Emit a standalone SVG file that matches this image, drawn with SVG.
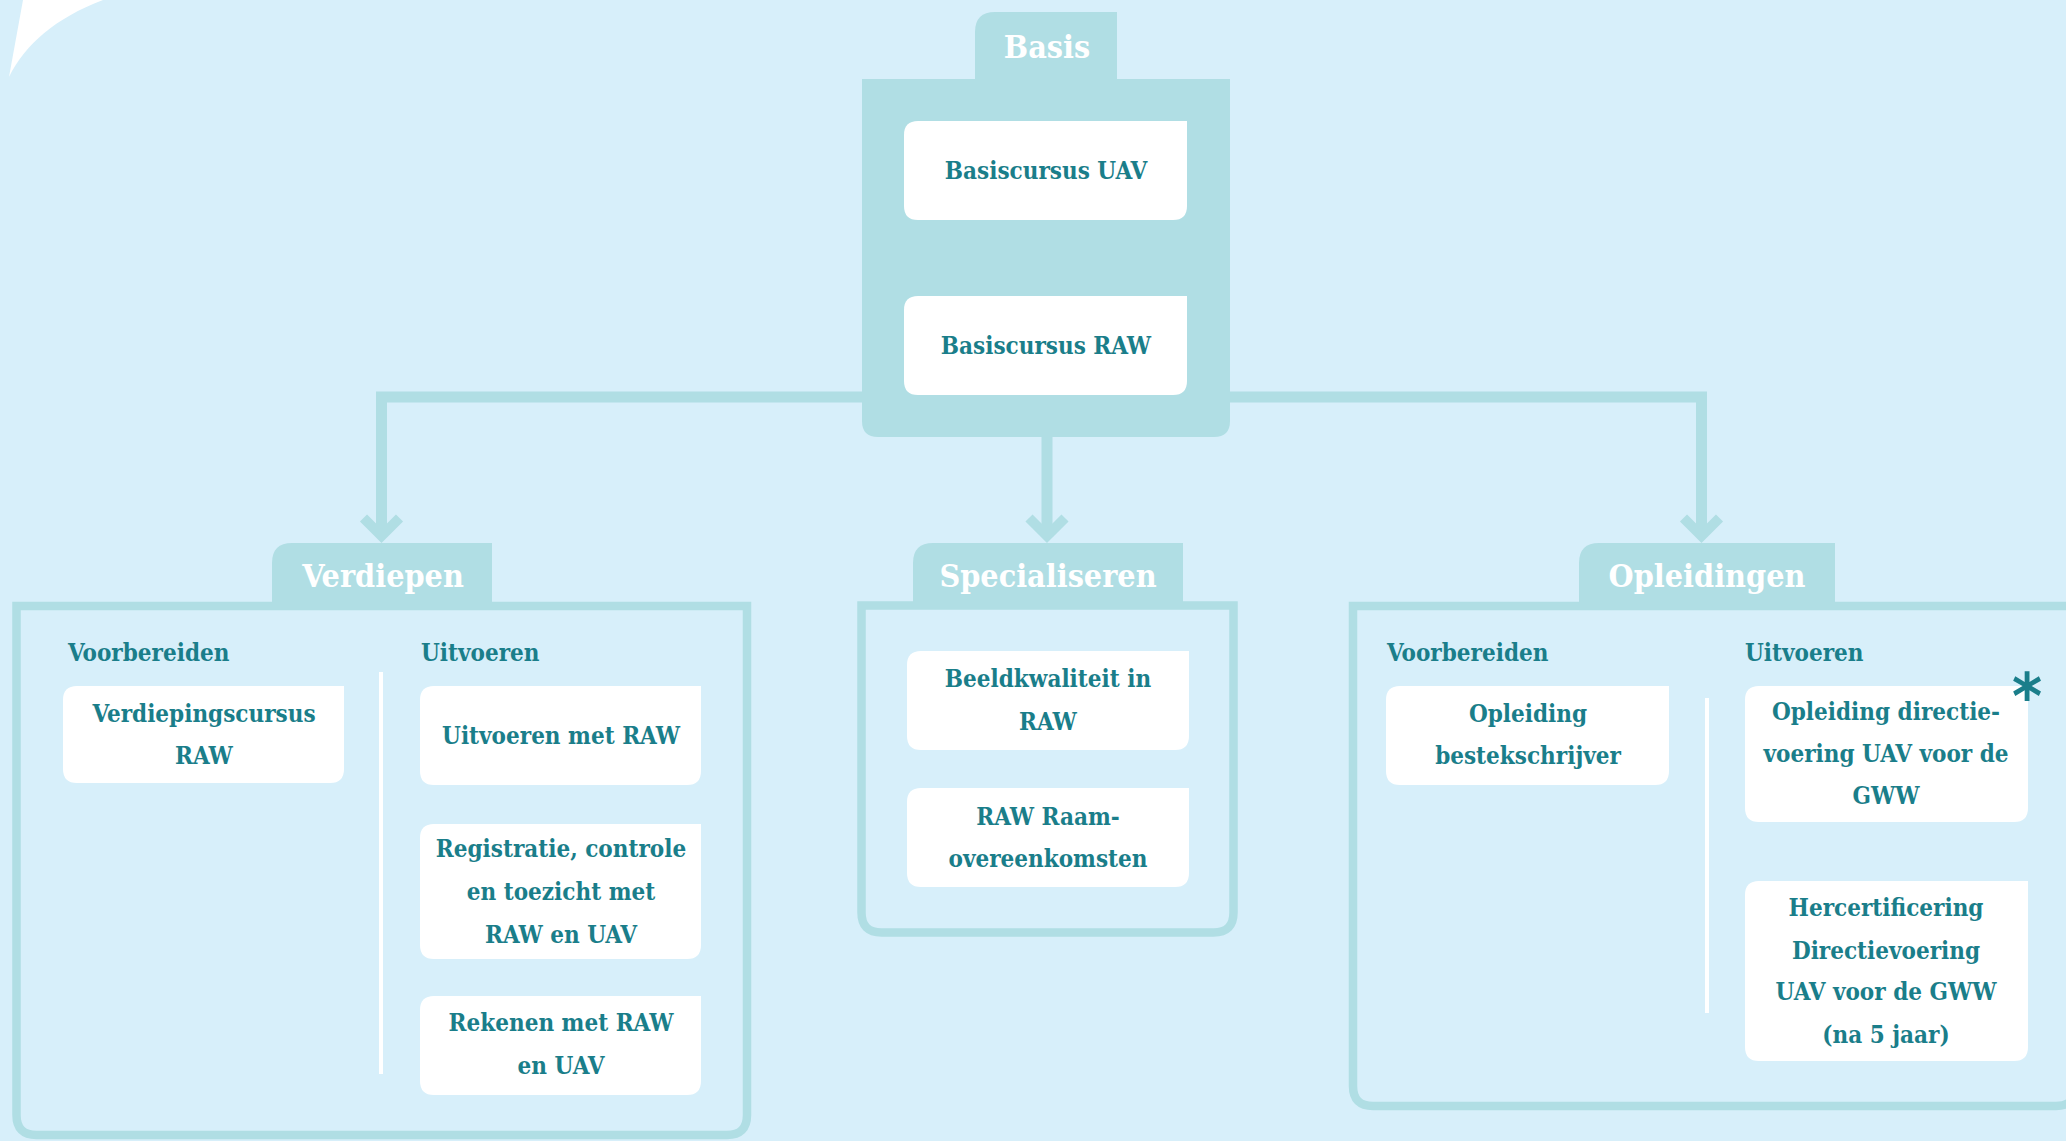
<svg xmlns="http://www.w3.org/2000/svg" width="2066" height="1141" viewBox="0 0 2066 1141">
<defs>
<style>
.bg{fill:#d7effa}
.tab{fill:#b0dee4}
.frame{fill:none;stroke:#b0dee4;stroke-width:8.5}
.card{fill:#ffffff}
.div{stroke:#ffffff;stroke-width:4}
.conn{fill:none;stroke:#b0dee4;stroke-width:11;stroke-linejoin:miter}
text{font-family:"DejaVu Serif Condensed","DejaVu Serif",serif;font-stretch:condensed;font-weight:bold}
.h{fill:#ffffff;font-size:32px;text-anchor:middle}
.sub{fill:#1a7e8a;font-size:24px}
.t{fill:#1a7e8a;font-size:24px;text-anchor:middle}
.star{fill:#1a7e8a;font-size:64px;text-anchor:middle;font-family:"DejaVu Sans",sans-serif}
</style>
<marker id="chev" markerUnits="userSpaceOnUse" orient="auto" viewBox="-30 -30 40 60" refX="0" refY="0" markerWidth="40" markerHeight="60" overflow="visible">
<polyline points="-18,-18 0,0 -18,18" fill="none" stroke="#b0dee4" stroke-width="10"/>
</marker>
</defs>
<rect class="bg" x="0" y="0" width="2066" height="1141"/>
<path d="M23,0 L9,77 C25,45 55,18 103,0 Z" fill="#ffffff"/>

<g id="connectors">
<path class="conn" d="M1047,437 V536" marker-end="url(#chev)"/>
<path class="conn" d="M1047,397 H381.5 V536" marker-end="url(#chev)"/>
<path class="conn" d="M1047,397 H1701.5 V536" marker-end="url(#chev)"/>
</g>

<g id="basis">
<path class="tab" d="M975,32 Q975,12 995,12 H1117 V80 H975 Z"/>
<path class="tab" d="M862,79 H1230 V421 Q1230,437 1214,437 H878 Q862,437 862,421 Z"/>
<text class="h" x="1047" y="58">Basis</text>
<g id="basiscursus-uav">
<path class="card" d="M918,121 H1187 V206 Q1187,220 1173,220 H918 Q904,220 904,206 V135 Q904,121 918,121 Z"/>
<text class="t" x="1046" y="179">Basiscursus UAV</text>
</g>
<g id="basiscursus-raw">
<path class="card" d="M918,296 H1187 V381 Q1187,395 1173,395 H918 Q904,395 904,381 V310 Q904,296 918,296 Z"/>
<text class="t" x="1046" y="354">Basiscursus RAW</text>
</g>
</g>

<g id="verdiepen">
<path class="frame" d="M16.5,606 H747 V1115 Q747,1135 727,1135 H36.5 Q16.5,1135 16.5,1115 Z"/>
<path class="tab" d="M272,563 Q272,543 292,543 H492 V609 H272 Z"/>
<text class="h" x="383" y="587">Verdiepen</text>
<text class="sub" x="68" y="661">Voorbereiden</text>
<text class="sub" x="421" y="661">Uitvoeren</text>
<line class="div" x1="381" y1="672" x2="381" y2="1074"/>
<g id="verdiepingscursus-raw">
<path class="card" d="M77,686 H344 V769 Q344,783 330,783 H77 Q63,783 63,769 V700 Q63,686 77,686 Z"/>
<text class="t" x="204" y="722">Verdiepingscursus</text>
<text class="t" x="204" y="764">RAW</text>
</g>
<g id="uitvoeren-met-raw">
<path class="card" d="M434,686 H701 V771 Q701,785 687,785 H434 Q420,785 420,771 V700 Q420,686 434,686 Z"/>
<text class="t" x="561" y="744">Uitvoeren met RAW</text>
</g>
<g id="registratie">
<path class="card" d="M434,824 H701 V945 Q701,959 687,959 H434 Q420,959 420,945 V838 Q420,824 434,824 Z"/>
<text class="t" x="561" y="857">Registratie, controle</text>
<text class="t" x="561" y="900">en toezicht met</text>
<text class="t" x="561" y="943">RAW en UAV</text>
</g>
<g id="rekenen">
<path class="card" d="M434,996 H701 V1081 Q701,1095 687,1095 H434 Q420,1095 420,1081 V1010 Q420,996 434,996 Z"/>
<text class="t" x="561" y="1031">Rekenen met RAW</text>
<text class="t" x="561" y="1074">en UAV</text>
</g>
</g>

<g id="specialiseren">
<path class="frame" d="M861.5,605.5 H1233.5 V912.5 Q1233.5,932.5 1213.5,932.5 H881.5 Q861.5,932.5 861.5,912.5 Z"/>
<path class="tab" d="M913,563 Q913,543 933,543 H1183 V609 H913 Z"/>
<text class="h" x="1048" y="587">Specialiseren</text>
<g id="beeldkwaliteit">
<path class="card" d="M921,651 H1189 V736 Q1189,750 1175,750 H921 Q907,750 907,736 V665 Q907,651 921,651 Z"/>
<text class="t" x="1048" y="687">Beeldkwaliteit in</text>
<text class="t" x="1048" y="730">RAW</text>
</g>
<g id="raamovereenkomsten">
<path class="card" d="M921,788 H1189 V873 Q1189,887 1175,887 H921 Q907,887 907,873 V802 Q907,788 921,788 Z"/>
<text class="t" x="1048" y="825">RAW Raam-</text>
<text class="t" x="1048" y="867">overeenkomsten</text>
</g>
</g>

<g id="opleidingen">
<path class="frame" d="M1353,606 H2076 V1086 Q2076,1106 2056,1106 H1373 Q1353,1106 1353,1086 Z"/>
<path class="tab" d="M1579,563 Q1579,543 1599,543 H1835 V609 H1579 Z"/>
<text class="h" x="1707" y="587">Opleidingen</text>
<text class="sub" x="1387" y="661">Voorbereiden</text>
<text class="sub" x="1745" y="661">Uitvoeren</text>
<line class="div" x1="1707" y1="698" x2="1707" y2="1013"/>
<g id="bestekschrijver">
<path class="card" d="M1400,686 H1669 V771 Q1669,785 1655,785 H1400 Q1386,785 1386,771 V700 Q1386,686 1400,686 Z"/>
<text class="t" x="1528" y="722">Opleiding</text>
<text class="t" x="1528" y="764">bestekschrijver</text>
</g>
<g id="directievoering">
<path class="card" d="M1759,686 H2028 V808 Q2028,822 2014,822 H1759 Q1745,822 1745,808 V700 Q1745,686 1759,686 Z"/>
<text class="t" x="1886" y="720">Opleiding directie-</text>
<text class="t" x="1886" y="762">voering UAV voor de</text>
<text class="t" x="1886" y="804">GWW</text>
<text class="star" x="2027" y="719">*</text>
</g>
<g id="hercertificering">
<path class="card" d="M1759,881 H2028 V1047 Q2028,1061 2014,1061 H1759 Q1745,1061 1745,1047 V895 Q1745,881 1759,881 Z"/>
<text class="t" x="1886" y="916">Hercertificering</text>
<text class="t" x="1886" y="959">Directievoering</text>
<text class="t" x="1886" y="1000">UAV voor de GWW</text>
<text class="t" x="1886" y="1043">(na 5 jaar)</text>
</g>
</g>
</svg>
